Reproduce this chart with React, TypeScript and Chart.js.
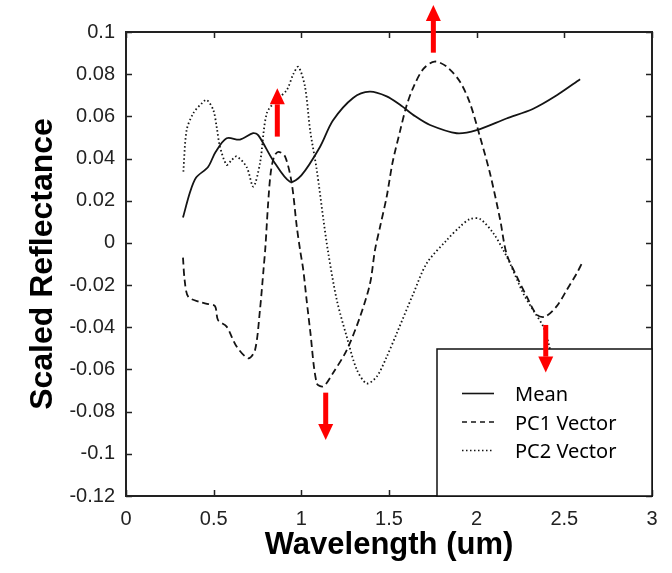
import React, { useEffect, useRef } from "react";
import { Chart, registerables } from "chart.js";

Chart.register(...registerables);

// ---------- data ----------
const meanX = [0.325, 0.365, 0.4, 0.468, 0.51, 0.574, 0.65, 0.725, 0.755, 0.84, 0.935, 1.0, 1.107, 1.18, 1.295, 1.39, 1.487, 1.563, 1.65, 1.734, 1.886, 2.0, 2.17, 2.32, 2.457, 2.59];
const meanY = [0.012, 0.024, 0.031, 0.036, 0.043, 0.0496, 0.049, 0.052, 0.051, 0.039, 0.029, 0.032, 0.0456, 0.058, 0.0687, 0.0717, 0.0695, 0.0655, 0.06, 0.0559, 0.052, 0.0535, 0.059, 0.0635, 0.07, 0.0776];

const pc1X = [0.325, 0.335, 0.355, 0.42, 0.47, 0.508, 0.525, 0.574, 0.63, 0.698, 0.736, 0.764, 0.785, 0.795, 0.81, 0.825, 0.845, 0.869, 0.907, 0.945, 0.974, 0.993, 1.011, 1.03, 1.05, 1.088, 1.126, 1.18, 1.259, 1.335, 1.392, 1.42, 1.45, 1.487, 1.52, 1.563, 1.6, 1.64, 1.696, 1.76, 1.83, 1.905, 1.962, 2.02, 2.076, 2.134, 2.17, 2.229, 2.286, 2.343, 2.39, 2.457, 2.514, 2.571, 2.6];
const pc1Y = [-0.007, -0.018, -0.0255, -0.028, -0.029, -0.03, -0.0366, -0.0397, -0.049, -0.0547, -0.0508, -0.0318, -0.012, -0.002, 0.018, 0.033, 0.041, 0.0432, 0.041, 0.0284, 0.0077, -0.0034, -0.0128, -0.027, -0.0413, -0.0666, -0.068, -0.0618, -0.0508, -0.035, -0.0192, -0.0034, 0.008, 0.022, 0.038, 0.053, 0.065, 0.074, 0.0825, 0.086, 0.0835, 0.0764, 0.0662, 0.05, 0.033, 0.011, -0.005, -0.016, -0.0255, -0.034, -0.035, -0.03, -0.0223, -0.0144, -0.0097];

const pc2X = [0.327, 0.346, 0.384, 0.43, 0.46, 0.498, 0.517, 0.536, 0.574, 0.6, 0.63, 0.688, 0.726, 0.764, 0.803, 0.86, 0.917, 0.954, 0.983, 1.021, 1.05, 1.088, 1.126, 1.154, 1.202, 1.259, 1.316, 1.373, 1.43, 1.487, 1.544, 1.639, 1.715, 1.83, 1.905, 1.962, 2.02, 2.095, 2.152, 2.19, 2.266, 2.323, 2.38, 2.41, 2.43];
const pc2Y = [0.0338, 0.0535, 0.0615, 0.066, 0.0678, 0.063, 0.055, 0.0456, 0.037, 0.039, 0.041, 0.036, 0.0267, 0.0377, 0.0615, 0.0678, 0.0725, 0.08, 0.0835, 0.074, 0.0535, 0.0346, 0.011, -0.005, -0.027, -0.0445, -0.06, -0.0666, -0.0634, -0.054, -0.0429, -0.024, -0.0097, 0.0014, 0.0077, 0.0113, 0.0113, 0.0046, -0.0034, -0.0097, -0.024, -0.032, -0.0397, -0.0476, -0.055];

const seriesNames = ["Mean", "PC1 Vector", "PC2 Vector"];

const xTicks = [0, 0.5, 1, 1.5, 2, 2.5, 3];
const xTickLabels = ["0", "0.5", "1", "1.5", "2", "2.5", "3"];
const yTicks = [-0.12, -0.1, -0.08, -0.06, -0.04, -0.02, 0, 0.02, 0.04, 0.06, 0.08, 0.1];
const yTickLabels = ["-0.12", "-0.1", "-0.08", "-0.06", "-0.04", "-0.02", "0", "0.02", "0.04", "0.06", "0.08", "0.1"];

// red arrow annotations (x, tail y, tip y)
const arrowX = [0.863, 1.753, 1.139, 2.394];
const arrowFrom = [0.0504, 0.0902, -0.071, -0.0389];
const arrowTo = [0.0733, 0.1128, -0.0935, -0.0615];

const xTitle = "Wavelength (um)";
const yTitle = "Scaled Reflectance";

// ---------- styles ----------
const LINE = "#141414";
const DASHES = [[], [7, 4], [1.5, 2.5]];
const LEGEND_DASHES = [[], [5, 4], [1.5, 2.5]];

const zip = (xs: number[], ys: number[]) => xs.map((x, i) => ({ x, y: ys[i] }));

const framePlugin = {
  id: "frame",
  afterDatasetsDraw(chart: any) {
    const { ctx, chartArea } = chart;
    const { left, right, top, bottom } = chartArea;
    const xs = chart.scales.x;
    const ys = chart.scales.y;
    const tl = 6;
    ctx.save();
    ctx.strokeStyle = "#222";
    ctx.lineWidth = 1.5;
    ctx.beginPath();
    xTicks.forEach((v) => {
      const px = Math.round(xs.getPixelForValue(v)) + 0.5;
      ctx.moveTo(px, bottom);
      ctx.lineTo(px, bottom - tl);
      ctx.moveTo(px, top);
      ctx.lineTo(px, top + tl);
    });
    yTicks.forEach((v) => {
      const py = Math.round(ys.getPixelForValue(v)) + 0.5;
      ctx.moveTo(left, py);
      ctx.lineTo(left + tl, py);
      ctx.moveTo(right, py);
      ctx.lineTo(right - tl, py);
    });
    ctx.stroke();
    ctx.lineWidth = 2;
    ctx.strokeRect(left, top, right - left, bottom - top);
    ctx.restore();
  },
  afterDraw(chart: any) {
    const { ctx, chartArea } = chart;
    const { right, bottom } = chartArea;
    const xs = chart.scales.x;
    const ys = chart.scales.y;
    ctx.save();
    // legend box
    const bx = 437;
    const by = 349;
    ctx.fillStyle = "#ffffff";
    ctx.fillRect(bx, by, right - bx, bottom - by);
    ctx.strokeStyle = "#111";
    ctx.lineWidth = 1.5;
    ctx.strokeRect(bx, by, right - bx, bottom - by);
    const baselines = [401, 429.5, 458];
    seriesNames.forEach((name, i) => {
      const cy = baselines[i] - 7.5;
      ctx.strokeStyle = LINE;
      ctx.lineWidth = 1.6;
      ctx.setLineDash(LEGEND_DASHES[i]);
      ctx.beginPath();
      ctx.moveTo(462, cy);
      ctx.lineTo(494, cy);
      ctx.stroke();
      ctx.setLineDash([]);
      ctx.fillStyle = "#000";
      ctx.font = "20px 'Noto Sans'";
      ctx.textBaseline = "alphabetic";
      ctx.textAlign = "left";
      ctx.fillText(name, 515, baselines[i]);
    });
    // arrows
    ctx.fillStyle = "#ff0000";
    arrowX.forEach((ax, i) => {
      const px = xs.getPixelForValue(ax);
      const p0 = ys.getPixelForValue(arrowFrom[i]);
      const p1 = ys.getPixelForValue(arrowTo[i]);
      const dir = p1 < p0 ? -1 : 1;
      const headLen = 16;
      const headHalf = 7.5;
      const shaftHalf = 2.5;
      const base = p1 - dir * headLen;
      ctx.fillRect(px - shaftHalf, Math.min(p0, base), shaftHalf * 2, Math.abs(base - p0));
      ctx.beginPath();
      ctx.moveTo(px - headHalf, base);
      ctx.lineTo(px + headHalf, base);
      ctx.lineTo(px, p1);
      ctx.closePath();
      ctx.fill();
    });
    ctx.restore();
  },
};

export default function App() {
  const ref = useRef<HTMLCanvasElement | null>(null);
  useEffect(() => {
    if (!ref.current) return;
    const seriesX = [meanX, pc1X, pc2X];
    const seriesY = [meanY, pc1Y, pc2Y];
    const chart = new Chart(ref.current, {
      type: "line",
      data: {
        datasets: seriesNames.map((name, i) => ({
          label: name,
          data: zip(seriesX[i], seriesY[i]),
          borderColor: LINE,
          borderWidth: 1.8,
          borderDash: DASHES[i],
          pointRadius: 0,
          fill: false,
          tension: 0.3,
        })),
      },
      options: {
        animation: false,
        responsive: false,
        devicePixelRatio: 1,
        layout: { padding: { left: 0, top: 32, right: 20, bottom: 0 } },
        plugins: { legend: { display: false }, tooltip: { enabled: false } },
        scales: {
          x: {
            type: "linear",
            min: 0,
            max: 3,
            grid: { display: false, drawTicks: false },
            border: { display: false },
            afterBuildTicks: (s: any) => {
              s.ticks = xTicks.map((v) => ({ value: v }));
            },
            afterFit: (s: any) => {
              s.height = 77;
            },
            ticks: {
              padding: 11,
              maxRotation: 0,
              color: "#222",
              font: { family: "'Liberation Sans', Arial", size: 20 },
              callback: (_v: any, i: number) => xTickLabels[i],
            },
            title: {
              display: true,
              text: xTitle,
              color: "#000",
              font: { family: "'Liberation Sans', Arial", size: 31, weight: "bold", lineHeight: 1 },
              padding: { top: 0, bottom: 12 },
            },
          },
          y: {
            type: "linear",
            min: -0.12,
            max: 0.1,
            grid: { display: false, drawTicks: false },
            border: { display: false },
            afterBuildTicks: (s: any) => {
              s.ticks = yTicks.map((v) => ({ value: v }));
            },
            afterFit: (s: any) => {
              s.width = 126;
            },
            ticks: {
              padding: 11,
              color: "#222",
              font: { family: "'Liberation Sans', Arial", size: 20 },
              callback: (_v: any, i: number) => yTickLabels[i],
            },
            title: {
              display: true,
              text: yTitle,
              color: "#000",
              font: { family: "'Liberation Sans', Arial", size: 32, weight: "bold", lineHeight: 1 },
              padding: { top: 27, bottom: 0 },
            },
          },
        },
      },
      plugins: [framePlugin],
    } as any);
    return () => chart.destroy();
  }, []);
  return (
    <div style={{ position: "fixed", left: 0, top: 0, width: 672, height: 573, background: "#fff" }}>
      <canvas ref={ref} width={672} height={573} style={{ display: "block" }} />
    </div>
  );
}
